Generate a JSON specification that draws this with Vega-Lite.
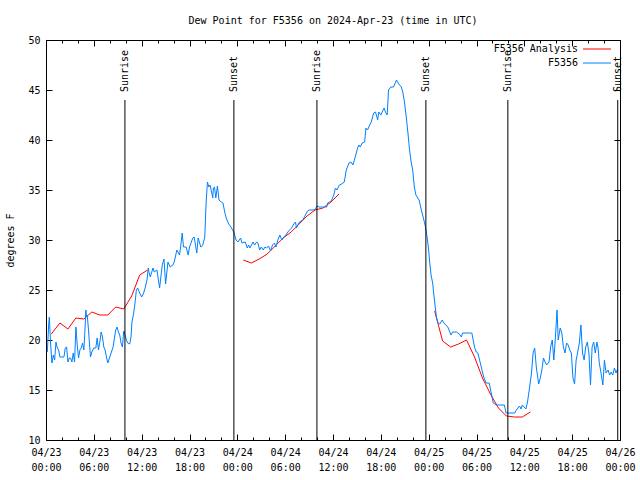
{
"$schema": "https://vega.github.io/schema/vega-lite/v6.json",
"width": 574, "height": 400,
"autosize": {"type": "none"},
"padding": {"left": 46, "top": 40, "right": 20, "bottom": 40},
"background": "white",
"config": {"font": "DejaVu Sans Mono", "view": {"stroke": "black", "strokeWidth": 1}},
"title": {"text": "Dew Point for F5356 on 2024-Apr-23 (time in UTC)", "fontSize": 10, "fontWeight": "normal", "anchor": "middle", "offset": 9, "color": "black", "font": "DejaVu Sans Mono"},
"datasets": {
"obs": [
{"series":"F5356 Analysis","seg":"a1","t":"2024-04-23T00:40Z","v":20.6},
{"series":"F5356 Analysis","seg":"a1","t":"2024-04-23T01:45Z","v":21.7},
{"series":"F5356 Analysis","seg":"a1","t":"2024-04-23T02:45Z","v":21.1},
{"series":"F5356 Analysis","seg":"a1","t":"2024-04-23T03:45Z","v":22.2},
{"series":"F5356 Analysis","seg":"a1","t":"2024-04-23T04:45Z","v":22.1},
{"series":"F5356 Analysis","seg":"a1","t":"2024-04-23T05:45Z","v":22.8},
{"series":"F5356 Analysis","seg":"a1","t":"2024-04-23T06:45Z","v":22.5},
{"series":"F5356 Analysis","seg":"a1","t":"2024-04-23T07:45Z","v":22.5},
{"series":"F5356 Analysis","seg":"a1","t":"2024-04-23T08:45Z","v":23.3},
{"series":"F5356 Analysis","seg":"a1","t":"2024-04-23T09:45Z","v":23.1},
{"series":"F5356 Analysis","seg":"a1","t":"2024-04-23T10:45Z","v":24.4},
{"series":"F5356 Analysis","seg":"a1","t":"2024-04-23T11:45Z","v":26.5},
{"series":"F5356 Analysis","seg":"a1","t":"2024-04-23T12:45Z","v":27.0},
{"series":"F5356 Analysis","seg":"a2","t":"2024-04-24T00:45Z","v":28.0},
{"series":"F5356 Analysis","seg":"a2","t":"2024-04-24T01:45Z","v":27.7},
{"series":"F5356 Analysis","seg":"a2","t":"2024-04-24T02:45Z","v":28.1},
{"series":"F5356 Analysis","seg":"a2","t":"2024-04-24T03:45Z","v":28.6},
{"series":"F5356 Analysis","seg":"a2","t":"2024-04-24T04:45Z","v":29.4},
{"series":"F5356 Analysis","seg":"a2","t":"2024-04-24T05:45Z","v":30.2},
{"series":"F5356 Analysis","seg":"a2","t":"2024-04-24T06:45Z","v":30.8},
{"series":"F5356 Analysis","seg":"a2","t":"2024-04-24T07:45Z","v":31.6},
{"series":"F5356 Analysis","seg":"a2","t":"2024-04-24T08:45Z","v":32.4},
{"series":"F5356 Analysis","seg":"a2","t":"2024-04-24T09:45Z","v":33.0},
{"series":"F5356 Analysis","seg":"a2","t":"2024-04-24T10:45Z","v":33.2},
{"series":"F5356 Analysis","seg":"a2","t":"2024-04-24T11:45Z","v":33.8},
{"series":"F5356 Analysis","seg":"a2","t":"2024-04-24T12:45Z","v":34.6},
{"series":"F5356 Analysis","seg":"a3","t":"2024-04-25T00:45Z","v":22.9},
{"series":"F5356 Analysis","seg":"a3","t":"2024-04-25T01:45Z","v":19.9},
{"series":"F5356 Analysis","seg":"a3","t":"2024-04-25T02:45Z","v":19.3},
{"series":"F5356 Analysis","seg":"a3","t":"2024-04-25T03:45Z","v":19.6},
{"series":"F5356 Analysis","seg":"a3","t":"2024-04-25T04:45Z","v":20.0},
{"series":"F5356 Analysis","seg":"a3","t":"2024-04-25T05:45Z","v":18.3},
{"series":"F5356 Analysis","seg":"a3","t":"2024-04-25T06:45Z","v":16.2},
{"series":"F5356 Analysis","seg":"a3","t":"2024-04-25T07:45Z","v":14.6},
{"series":"F5356 Analysis","seg":"a3","t":"2024-04-25T08:45Z","v":13.2},
{"series":"F5356 Analysis","seg":"a3","t":"2024-04-25T09:45Z","v":12.4},
{"series":"F5356 Analysis","seg":"a3","t":"2024-04-25T10:45Z","v":12.3},
{"series":"F5356 Analysis","seg":"a3","t":"2024-04-25T11:45Z","v":12.3},
{"series":"F5356 Analysis","seg":"a3","t":"2024-04-25T12:45Z","v":12.8},
{"series":"F5356","seg":"b","t":"2024-04-23T00:10Z","v":18.8},
{"series":"F5356","seg":"b","t":"2024-04-23T00:20Z","v":21.5},
{"series":"F5356","seg":"b","t":"2024-04-23T00:25Z","v":22.3},
{"series":"F5356","seg":"b","t":"2024-04-23T00:35Z","v":19.5},
{"series":"F5356","seg":"b","t":"2024-04-23T00:45Z","v":17.7},
{"series":"F5356","seg":"b","t":"2024-04-23T00:55Z","v":18.5},
{"series":"F5356","seg":"b","t":"2024-04-23T01:05Z","v":18.0},
{"series":"F5356","seg":"b","t":"2024-04-23T01:15Z","v":19.8},
{"series":"F5356","seg":"b","t":"2024-04-23T01:25Z","v":19.2},
{"series":"F5356","seg":"b","t":"2024-04-23T01:35Z","v":19.0},
{"series":"F5356","seg":"b","t":"2024-04-23T01:45Z","v":18.3},
{"series":"F5356","seg":"b","t":"2024-04-23T02:00Z","v":18.3},
{"series":"F5356","seg":"b","t":"2024-04-23T02:15Z","v":18.3},
{"series":"F5356","seg":"b","t":"2024-04-23T02:25Z","v":19.2},
{"series":"F5356","seg":"b","t":"2024-04-23T02:35Z","v":19.3},
{"series":"F5356","seg":"b","t":"2024-04-23T02:45Z","v":17.8},
{"series":"F5356","seg":"b","t":"2024-04-23T02:55Z","v":18.2},
{"series":"F5356","seg":"b","t":"2024-04-23T03:05Z","v":18.2},
{"series":"F5356","seg":"b","t":"2024-04-23T03:15Z","v":17.8},
{"series":"F5356","seg":"b","t":"2024-04-23T03:25Z","v":18.7},
{"series":"F5356","seg":"b","t":"2024-04-23T03:35Z","v":17.8},
{"series":"F5356","seg":"b","t":"2024-04-23T03:45Z","v":21.3},
{"series":"F5356","seg":"b","t":"2024-04-23T03:55Z","v":19.5},
{"series":"F5356","seg":"b","t":"2024-04-23T04:05Z","v":18.2},
{"series":"F5356","seg":"b","t":"2024-04-23T04:15Z","v":19.0},
{"series":"F5356","seg":"b","t":"2024-04-23T04:25Z","v":19.2},
{"series":"F5356","seg":"b","t":"2024-04-23T04:35Z","v":19.7},
{"series":"F5356","seg":"b","t":"2024-04-23T04:45Z","v":19.0},
{"series":"F5356","seg":"b","t":"2024-04-23T04:52Z","v":20.7},
{"series":"F5356","seg":"b","t":"2024-04-23T05:00Z","v":23.0},
{"series":"F5356","seg":"b","t":"2024-04-23T05:05Z","v":22.3},
{"series":"F5356","seg":"b","t":"2024-04-23T05:10Z","v":22.5},
{"series":"F5356","seg":"b","t":"2024-04-23T05:20Z","v":21.0},
{"series":"F5356","seg":"b","t":"2024-04-23T05:27Z","v":19.7},
{"series":"F5356","seg":"b","t":"2024-04-23T05:35Z","v":18.3},
{"series":"F5356","seg":"b","t":"2024-04-23T05:45Z","v":18.8},
{"series":"F5356","seg":"b","t":"2024-04-23T06:00Z","v":19.2},
{"series":"F5356","seg":"b","t":"2024-04-23T06:15Z","v":19.2},
{"series":"F5356","seg":"b","t":"2024-04-23T06:25Z","v":20.2},
{"series":"F5356","seg":"b","t":"2024-04-23T06:35Z","v":19.0},
{"series":"F5356","seg":"b","t":"2024-04-23T06:45Z","v":19.8},
{"series":"F5356","seg":"b","t":"2024-04-23T06:55Z","v":20.8},
{"series":"F5356","seg":"b","t":"2024-04-23T07:05Z","v":20.3},
{"series":"F5356","seg":"b","t":"2024-04-23T07:15Z","v":19.3},
{"series":"F5356","seg":"b","t":"2024-04-23T07:25Z","v":19.0},
{"series":"F5356","seg":"b","t":"2024-04-23T07:35Z","v":18.3},
{"series":"F5356","seg":"b","t":"2024-04-23T07:45Z","v":17.7},
{"series":"F5356","seg":"b","t":"2024-04-23T08:00Z","v":18.3},
{"series":"F5356","seg":"b","t":"2024-04-23T08:10Z","v":18.7},
{"series":"F5356","seg":"b","t":"2024-04-23T08:25Z","v":19.3},
{"series":"F5356","seg":"b","t":"2024-04-23T08:35Z","v":20.2},
{"series":"F5356","seg":"b","t":"2024-04-23T08:45Z","v":21.0},
{"series":"F5356","seg":"b","t":"2024-04-23T08:55Z","v":21.3},
{"series":"F5356","seg":"b","t":"2024-04-23T09:05Z","v":20.8},
{"series":"F5356","seg":"b","t":"2024-04-23T09:15Z","v":20.5},
{"series":"F5356","seg":"b","t":"2024-04-23T09:25Z","v":19.7},
{"series":"F5356","seg":"b","t":"2024-04-23T09:35Z","v":19.3},
{"series":"F5356","seg":"b","t":"2024-04-23T09:45Z","v":20.9},
{"series":"F5356","seg":"b","t":"2024-04-23T09:55Z","v":20.5},
{"series":"F5356","seg":"b","t":"2024-04-23T10:05Z","v":20.0},
{"series":"F5356","seg":"b","t":"2024-04-23T10:15Z","v":19.7},
{"series":"F5356","seg":"b","t":"2024-04-23T10:30Z","v":19.6},
{"series":"F5356","seg":"b","t":"2024-04-23T10:40Z","v":20.3},
{"series":"F5356","seg":"b","t":"2024-04-23T10:47Z","v":21.8},
{"series":"F5356","seg":"b","t":"2024-04-23T11:00Z","v":22.7},
{"series":"F5356","seg":"b","t":"2024-04-23T11:10Z","v":23.7},
{"series":"F5356","seg":"b","t":"2024-04-23T11:20Z","v":25.0},
{"series":"F5356","seg":"b","t":"2024-04-23T11:30Z","v":25.2},
{"series":"F5356","seg":"b","t":"2024-04-23T11:45Z","v":24.7},
{"series":"F5356","seg":"b","t":"2024-04-23T12:00Z","v":24.3},
{"series":"F5356","seg":"b","t":"2024-04-23T12:15Z","v":24.7},
{"series":"F5356","seg":"b","t":"2024-04-23T12:28Z","v":25.3},
{"series":"F5356","seg":"b","t":"2024-04-23T12:40Z","v":26.0},
{"series":"F5356","seg":"b","t":"2024-04-23T12:50Z","v":27.2},
{"series":"F5356","seg":"b","t":"2024-04-23T12:55Z","v":26.8},
{"series":"F5356","seg":"b","t":"2024-04-23T13:05Z","v":26.3},
{"series":"F5356","seg":"b","t":"2024-04-23T13:25Z","v":27.2},
{"series":"F5356","seg":"b","t":"2024-04-23T13:35Z","v":26.8},
{"series":"F5356","seg":"b","t":"2024-04-23T13:55Z","v":27.0},
{"series":"F5356","seg":"b","t":"2024-04-23T14:15Z","v":25.2},
{"series":"F5356","seg":"b","t":"2024-04-23T14:35Z","v":27.5},
{"series":"F5356","seg":"b","t":"2024-04-23T14:48Z","v":28.1},
{"series":"F5356","seg":"b","t":"2024-04-23T15:00Z","v":25.6},
{"series":"F5356","seg":"b","t":"2024-04-23T15:18Z","v":27.8},
{"series":"F5356","seg":"b","t":"2024-04-23T15:35Z","v":27.3},
{"series":"F5356","seg":"b","t":"2024-04-23T15:55Z","v":27.5},
{"series":"F5356","seg":"b","t":"2024-04-23T16:05Z","v":27.8},
{"series":"F5356","seg":"b","t":"2024-04-23T16:25Z","v":29.0},
{"series":"F5356","seg":"b","t":"2024-04-23T16:45Z","v":28.5},
{"series":"F5356","seg":"b","t":"2024-04-23T16:55Z","v":29.5},
{"series":"F5356","seg":"b","t":"2024-04-23T17:05Z","v":30.7},
{"series":"F5356","seg":"b","t":"2024-04-23T17:15Z","v":29.3},
{"series":"F5356","seg":"b","t":"2024-04-23T17:35Z","v":29.3},
{"series":"F5356","seg":"b","t":"2024-04-23T17:50Z","v":28.5},
{"series":"F5356","seg":"b","t":"2024-04-23T18:00Z","v":29.3},
{"series":"F5356","seg":"b","t":"2024-04-23T18:25Z","v":30.2},
{"series":"F5356","seg":"b","t":"2024-04-23T18:35Z","v":30.3},
{"series":"F5356","seg":"b","t":"2024-04-23T18:55Z","v":28.7},
{"series":"F5356","seg":"b","t":"2024-04-23T19:05Z","v":30.2},
{"series":"F5356","seg":"b","t":"2024-04-23T19:25Z","v":29.3},
{"series":"F5356","seg":"b","t":"2024-04-23T19:40Z","v":29.5},
{"series":"F5356","seg":"b","t":"2024-04-23T19:55Z","v":30.3},
{"series":"F5356","seg":"b","t":"2024-04-23T20:05Z","v":33.7},
{"series":"F5356","seg":"b","t":"2024-04-23T20:15Z","v":35.8},
{"series":"F5356","seg":"b","t":"2024-04-23T20:25Z","v":35.3},
{"series":"F5356","seg":"b","t":"2024-04-23T20:35Z","v":35.5},
{"series":"F5356","seg":"b","t":"2024-04-23T20:55Z","v":34.2},
{"series":"F5356","seg":"b","t":"2024-04-23T21:00Z","v":35.2},
{"series":"F5356","seg":"b","t":"2024-04-23T21:08Z","v":35.3},
{"series":"F5356","seg":"b","t":"2024-04-23T21:18Z","v":34.2},
{"series":"F5356","seg":"b","t":"2024-04-23T21:30Z","v":35.4},
{"series":"F5356","seg":"b","t":"2024-04-23T21:42Z","v":34.0},
{"series":"F5356","seg":"b","t":"2024-04-23T22:00Z","v":33.8},
{"series":"F5356","seg":"b","t":"2024-04-23T22:12Z","v":33.7},
{"series":"F5356","seg":"b","t":"2024-04-23T22:25Z","v":32.8},
{"series":"F5356","seg":"b","t":"2024-04-23T22:36Z","v":32.2},
{"series":"F5356","seg":"b","t":"2024-04-23T22:55Z","v":31.6},
{"series":"F5356","seg":"b","t":"2024-04-23T23:12Z","v":31.3},
{"series":"F5356","seg":"b","t":"2024-04-23T23:36Z","v":30.7},
{"series":"F5356","seg":"b","t":"2024-04-23T23:50Z","v":30.0},
{"series":"F5356","seg":"b","t":"2024-04-24T00:05Z","v":29.8},
{"series":"F5356","seg":"b","t":"2024-04-24T00:25Z","v":30.2},
{"series":"F5356","seg":"b","t":"2024-04-24T00:35Z","v":29.7},
{"series":"F5356","seg":"b","t":"2024-04-24T01:00Z","v":29.8},
{"series":"F5356","seg":"b","t":"2024-04-24T01:15Z","v":29.2},
{"series":"F5356","seg":"b","t":"2024-04-24T01:25Z","v":29.5},
{"series":"F5356","seg":"b","t":"2024-04-24T01:35Z","v":29.2},
{"series":"F5356","seg":"b","t":"2024-04-24T01:58Z","v":29.8},
{"series":"F5356","seg":"b","t":"2024-04-24T02:10Z","v":29.5},
{"series":"F5356","seg":"b","t":"2024-04-24T02:25Z","v":29.8},
{"series":"F5356","seg":"b","t":"2024-04-24T02:35Z","v":29.7},
{"series":"F5356","seg":"b","t":"2024-04-24T02:48Z","v":29.0},
{"series":"F5356","seg":"b","t":"2024-04-24T03:00Z","v":29.3},
{"series":"F5356","seg":"b","t":"2024-04-24T03:15Z","v":29.0},
{"series":"F5356","seg":"b","t":"2024-04-24T03:28Z","v":29.3},
{"series":"F5356","seg":"b","t":"2024-04-24T03:40Z","v":29.2},
{"series":"F5356","seg":"b","t":"2024-04-24T03:55Z","v":29.4},
{"series":"F5356","seg":"b","t":"2024-04-24T04:10Z","v":28.9},
{"series":"F5356","seg":"b","t":"2024-04-24T04:25Z","v":29.5},
{"series":"F5356","seg":"b","t":"2024-04-24T04:40Z","v":29.7},
{"series":"F5356","seg":"b","t":"2024-04-24T04:50Z","v":29.3},
{"series":"F5356","seg":"b","t":"2024-04-24T05:05Z","v":30.0},
{"series":"F5356","seg":"b","t":"2024-04-24T05:20Z","v":30.5},
{"series":"F5356","seg":"b","t":"2024-04-24T05:35Z","v":30.0},
{"series":"F5356","seg":"b","t":"2024-04-24T05:50Z","v":30.3},
{"series":"F5356","seg":"b","t":"2024-04-24T06:05Z","v":30.5},
{"series":"F5356","seg":"b","t":"2024-04-24T06:20Z","v":30.8},
{"series":"F5356","seg":"b","t":"2024-04-24T06:48Z","v":31.2},
{"series":"F5356","seg":"b","t":"2024-04-24T07:05Z","v":31.6},
{"series":"F5356","seg":"b","t":"2024-04-24T07:18Z","v":31.8},
{"series":"F5356","seg":"b","t":"2024-04-24T07:25Z","v":31.2},
{"series":"F5356","seg":"b","t":"2024-04-24T07:35Z","v":31.5},
{"series":"F5356","seg":"b","t":"2024-04-24T07:48Z","v":31.8},
{"series":"F5356","seg":"b","t":"2024-04-24T08:12Z","v":32.0},
{"series":"F5356","seg":"b","t":"2024-04-24T08:25Z","v":32.3},
{"series":"F5356","seg":"b","t":"2024-04-24T08:48Z","v":32.9},
{"series":"F5356","seg":"b","t":"2024-04-24T09:00Z","v":33.0},
{"series":"F5356","seg":"b","t":"2024-04-24T09:30Z","v":33.0},
{"series":"F5356","seg":"b","t":"2024-04-24T09:48Z","v":33.1},
{"series":"F5356","seg":"b","t":"2024-04-24T10:00Z","v":33.4},
{"series":"F5356","seg":"b","t":"2024-04-24T10:15Z","v":33.3},
{"series":"F5356","seg":"b","t":"2024-04-24T10:42Z","v":33.3},
{"series":"F5356","seg":"b","t":"2024-04-24T11:12Z","v":33.3},
{"series":"F5356","seg":"b","t":"2024-04-24T11:20Z","v":33.7},
{"series":"F5356","seg":"b","t":"2024-04-24T11:36Z","v":33.8},
{"series":"F5356","seg":"b","t":"2024-04-24T11:50Z","v":34.0},
{"series":"F5356","seg":"b","t":"2024-04-24T12:06Z","v":34.5},
{"series":"F5356","seg":"b","t":"2024-04-24T12:18Z","v":35.2},
{"series":"F5356","seg":"b","t":"2024-04-24T12:30Z","v":35.0},
{"series":"F5356","seg":"b","t":"2024-04-24T12:48Z","v":35.5},
{"series":"F5356","seg":"b","t":"2024-04-24T13:05Z","v":35.6},
{"series":"F5356","seg":"b","t":"2024-04-24T13:25Z","v":35.8},
{"series":"F5356","seg":"b","t":"2024-04-24T13:40Z","v":37.0},
{"series":"F5356","seg":"b","t":"2024-04-24T14:00Z","v":37.7},
{"series":"F5356","seg":"b","t":"2024-04-24T14:15Z","v":37.8},
{"series":"F5356","seg":"b","t":"2024-04-24T14:30Z","v":37.5},
{"series":"F5356","seg":"b","t":"2024-04-24T14:45Z","v":38.2},
{"series":"F5356","seg":"b","t":"2024-04-24T15:05Z","v":39.2},
{"series":"F5356","seg":"b","t":"2024-04-24T15:15Z","v":39.5},
{"series":"F5356","seg":"b","t":"2024-04-24T15:25Z","v":39.3},
{"series":"F5356","seg":"b","t":"2024-04-24T15:40Z","v":39.7},
{"series":"F5356","seg":"b","t":"2024-04-24T15:58Z","v":39.8},
{"series":"F5356","seg":"b","t":"2024-04-24T16:08Z","v":41.2},
{"series":"F5356","seg":"b","t":"2024-04-24T16:20Z","v":41.0},
{"series":"F5356","seg":"b","t":"2024-04-24T16:36Z","v":41.5},
{"series":"F5356","seg":"b","t":"2024-04-24T16:48Z","v":41.8},
{"series":"F5356","seg":"b","t":"2024-04-24T17:06Z","v":42.7},
{"series":"F5356","seg":"b","t":"2024-04-24T17:20Z","v":42.8},
{"series":"F5356","seg":"b","t":"2024-04-24T17:36Z","v":42.0},
{"series":"F5356","seg":"b","t":"2024-04-24T17:45Z","v":42.8},
{"series":"F5356","seg":"b","t":"2024-04-24T18:00Z","v":42.5},
{"series":"F5356","seg":"b","t":"2024-04-24T18:24Z","v":43.2},
{"series":"F5356","seg":"b","t":"2024-04-24T18:35Z","v":42.8},
{"series":"F5356","seg":"b","t":"2024-04-24T18:48Z","v":42.5},
{"series":"F5356","seg":"b","t":"2024-04-24T18:58Z","v":45.0},
{"series":"F5356","seg":"b","t":"2024-04-24T19:15Z","v":45.3},
{"series":"F5356","seg":"b","t":"2024-04-24T19:36Z","v":45.3},
{"series":"F5356","seg":"b","t":"2024-04-24T19:58Z","v":46.0},
{"series":"F5356","seg":"b","t":"2024-04-24T20:10Z","v":45.7},
{"series":"F5356","seg":"b","t":"2024-04-24T20:34Z","v":45.3},
{"series":"F5356","seg":"b","t":"2024-04-24T20:45Z","v":44.8},
{"series":"F5356","seg":"b","t":"2024-04-24T20:59Z","v":43.7},
{"series":"F5356","seg":"b","t":"2024-04-24T21:12Z","v":42.2},
{"series":"F5356","seg":"b","t":"2024-04-24T21:24Z","v":40.7},
{"series":"F5356","seg":"b","t":"2024-04-24T21:36Z","v":39.0},
{"series":"F5356","seg":"b","t":"2024-04-24T21:48Z","v":37.8},
{"series":"F5356","seg":"b","t":"2024-04-24T22:00Z","v":37.0},
{"series":"F5356","seg":"b","t":"2024-04-24T22:12Z","v":35.3},
{"series":"F5356","seg":"b","t":"2024-04-24T22:24Z","v":34.5},
{"series":"F5356","seg":"b","t":"2024-04-24T22:48Z","v":34.0},
{"series":"F5356","seg":"b","t":"2024-04-24T23:05Z","v":33.0},
{"series":"F5356","seg":"b","t":"2024-04-24T23:24Z","v":32.0},
{"series":"F5356","seg":"b","t":"2024-04-24T23:36Z","v":31.3},
{"series":"F5356","seg":"b","t":"2024-04-24T23:48Z","v":30.3},
{"series":"F5356","seg":"b","t":"2024-04-25T00:00Z","v":29.0},
{"series":"F5356","seg":"b","t":"2024-04-25T00:06Z","v":28.0},
{"series":"F5356","seg":"b","t":"2024-04-25T00:18Z","v":26.5},
{"series":"F5356","seg":"b","t":"2024-04-25T00:30Z","v":25.7},
{"series":"F5356","seg":"b","t":"2024-04-25T00:42Z","v":24.2},
{"series":"F5356","seg":"b","t":"2024-04-25T00:58Z","v":22.3},
{"series":"F5356","seg":"b","t":"2024-04-25T01:10Z","v":21.7},
{"series":"F5356","seg":"b","t":"2024-04-25T01:24Z","v":21.6},
{"series":"F5356","seg":"b","t":"2024-04-25T01:42Z","v":22.0},
{"series":"F5356","seg":"b","t":"2024-04-25T01:55Z","v":21.7},
{"series":"F5356","seg":"b","t":"2024-04-25T02:24Z","v":21.3},
{"series":"F5356","seg":"b","t":"2024-04-25T02:48Z","v":20.5},
{"series":"F5356","seg":"b","t":"2024-04-25T03:00Z","v":20.8},
{"series":"F5356","seg":"b","t":"2024-04-25T03:30Z","v":20.8},
{"series":"F5356","seg":"b","t":"2024-04-25T03:50Z","v":20.6},
{"series":"F5356","seg":"b","t":"2024-04-25T04:06Z","v":20.3},
{"series":"F5356","seg":"b","t":"2024-04-25T04:15Z","v":20.7},
{"series":"F5356","seg":"b","t":"2024-04-25T05:06Z","v":20.7},
{"series":"F5356","seg":"b","t":"2024-04-25T05:25Z","v":20.7},
{"series":"F5356","seg":"b","t":"2024-04-25T05:45Z","v":19.3},
{"series":"F5356","seg":"b","t":"2024-04-25T05:58Z","v":18.8},
{"series":"F5356","seg":"b","t":"2024-04-25T06:10Z","v":18.7},
{"series":"F5356","seg":"b","t":"2024-04-25T06:36Z","v":17.3},
{"series":"F5356","seg":"b","t":"2024-04-25T06:54Z","v":16.3},
{"series":"F5356","seg":"b","t":"2024-04-25T07:12Z","v":15.7},
{"series":"F5356","seg":"b","t":"2024-04-25T07:36Z","v":15.7},
{"series":"F5356","seg":"b","t":"2024-04-25T07:51Z","v":14.7},
{"series":"F5356","seg":"b","t":"2024-04-25T08:06Z","v":13.7},
{"series":"F5356","seg":"b","t":"2024-04-25T08:30Z","v":13.5},
{"series":"F5356","seg":"b","t":"2024-04-25T09:30Z","v":13.5},
{"series":"F5356","seg":"b","t":"2024-04-25T09:42Z","v":12.7},
{"series":"F5356","seg":"b","t":"2024-04-25T10:06Z","v":12.7},
{"series":"F5356","seg":"b","t":"2024-04-25T10:48Z","v":12.7},
{"series":"F5356","seg":"b","t":"2024-04-25T11:00Z","v":13.0},
{"series":"F5356","seg":"b","t":"2024-04-25T11:24Z","v":13.4},
{"series":"F5356","seg":"b","t":"2024-04-25T11:35Z","v":13.1},
{"series":"F5356","seg":"b","t":"2024-04-25T11:45Z","v":13.5},
{"series":"F5356","seg":"b","t":"2024-04-25T12:12Z","v":13.1},
{"series":"F5356","seg":"b","t":"2024-04-25T12:24Z","v":13.8},
{"series":"F5356","seg":"b","t":"2024-04-25T12:39Z","v":15.2},
{"series":"F5356","seg":"b","t":"2024-04-25T12:54Z","v":16.7},
{"series":"F5356","seg":"b","t":"2024-04-25T13:06Z","v":18.7},
{"series":"F5356","seg":"b","t":"2024-04-25T13:18Z","v":19.2},
{"series":"F5356","seg":"b","t":"2024-04-25T13:30Z","v":17.3},
{"series":"F5356","seg":"b","t":"2024-04-25T13:48Z","v":15.6},
{"series":"F5356","seg":"b","t":"2024-04-25T14:00Z","v":16.2},
{"series":"F5356","seg":"b","t":"2024-04-25T14:12Z","v":17.0},
{"series":"F5356","seg":"b","t":"2024-04-25T14:24Z","v":18.2},
{"series":"F5356","seg":"b","t":"2024-04-25T14:36Z","v":17.8},
{"series":"F5356","seg":"b","t":"2024-04-25T14:48Z","v":17.5},
{"series":"F5356","seg":"b","t":"2024-04-25T15:06Z","v":17.8},
{"series":"F5356","seg":"b","t":"2024-04-25T15:18Z","v":19.3},
{"series":"F5356","seg":"b","t":"2024-04-25T15:30Z","v":20.0},
{"series":"F5356","seg":"b","t":"2024-04-25T15:42Z","v":18.0},
{"series":"F5356","seg":"b","t":"2024-04-25T15:54Z","v":20.3},
{"series":"F5356","seg":"b","t":"2024-04-25T16:06Z","v":23.0},
{"series":"F5356","seg":"b","t":"2024-04-25T16:15Z","v":20.0},
{"series":"F5356","seg":"b","t":"2024-04-25T16:30Z","v":21.2},
{"series":"F5356","seg":"b","t":"2024-04-25T16:42Z","v":20.7},
{"series":"F5356","seg":"b","t":"2024-04-25T16:54Z","v":19.3},
{"series":"F5356","seg":"b","t":"2024-04-25T17:06Z","v":18.7},
{"series":"F5356","seg":"b","t":"2024-04-25T17:18Z","v":19.7},
{"series":"F5356","seg":"b","t":"2024-04-25T17:30Z","v":19.5},
{"series":"F5356","seg":"b","t":"2024-04-25T17:42Z","v":19.0},
{"series":"F5356","seg":"b","t":"2024-04-25T17:54Z","v":18.7},
{"series":"F5356","seg":"b","t":"2024-04-25T18:06Z","v":16.2},
{"series":"F5356","seg":"b","t":"2024-04-25T18:18Z","v":15.6},
{"series":"F5356","seg":"b","t":"2024-04-25T18:30Z","v":18.0},
{"series":"F5356","seg":"b","t":"2024-04-25T18:42Z","v":18.8},
{"series":"F5356","seg":"b","t":"2024-04-25T18:54Z","v":19.7},
{"series":"F5356","seg":"b","t":"2024-04-25T19:06Z","v":21.5},
{"series":"F5356","seg":"b","t":"2024-04-25T19:18Z","v":18.7},
{"series":"F5356","seg":"b","t":"2024-04-25T19:30Z","v":18.0},
{"series":"F5356","seg":"b","t":"2024-04-25T19:42Z","v":19.3},
{"series":"F5356","seg":"b","t":"2024-04-25T19:54Z","v":19.8},
{"series":"F5356","seg":"b","t":"2024-04-25T20:06Z","v":18.7},
{"series":"F5356","seg":"b","t":"2024-04-25T20:18Z","v":15.5},
{"series":"F5356","seg":"b","t":"2024-04-25T20:30Z","v":19.3},
{"series":"F5356","seg":"b","t":"2024-04-25T20:42Z","v":19.8},
{"series":"F5356","seg":"b","t":"2024-04-25T20:54Z","v":18.7},
{"series":"F5356","seg":"b","t":"2024-04-25T21:06Z","v":19.8},
{"series":"F5356","seg":"b","t":"2024-04-25T21:15Z","v":19.2},
{"series":"F5356","seg":"b","t":"2024-04-25T21:24Z","v":17.7},
{"series":"F5356","seg":"b","t":"2024-04-25T21:36Z","v":16.8},
{"series":"F5356","seg":"b","t":"2024-04-25T21:51Z","v":15.5},
{"series":"F5356","seg":"b","t":"2024-04-25T22:03Z","v":18.0},
{"series":"F5356","seg":"b","t":"2024-04-25T22:15Z","v":16.7},
{"series":"F5356","seg":"b","t":"2024-04-25T22:30Z","v":17.0},
{"series":"F5356","seg":"b","t":"2024-04-25T22:42Z","v":16.5},
{"series":"F5356","seg":"b","t":"2024-04-25T22:54Z","v":16.8},
{"series":"F5356","seg":"b","t":"2024-04-25T23:06Z","v":16.5},
{"series":"F5356","seg":"b","t":"2024-04-25T23:18Z","v":17.2},
{"series":"F5356","seg":"b","t":"2024-04-25T23:30Z","v":16.7},
{"series":"F5356","seg":"b","t":"2024-04-25T23:42Z","v":17.1}
],
"sun": [
{"event":"Sunrise","t":"2024-04-23T09:54Z"},
{"event":"Sunset","t":"2024-04-23T23:34Z"},
{"event":"Sunrise","t":"2024-04-24T09:59Z"},
{"event":"Sunset","t":"2024-04-24T23:39Z"},
{"event":"Sunrise","t":"2024-04-25T09:56Z"},
{"event":"Sunset","t":"2024-04-25T23:43Z"}
]
},
"layer": [
{
"data": {"name": "obs"},
"mark": {"type": "line", "strokeWidth": 1, "clip": true},
"encoding": {
"x": {"field": "t", "type": "temporal",
 "scale": {"type": "utc", "domain": [1713830400000, 1714089600000]},
 "axis": {"orient": "bottom", "title": null, "grid": false, "domain": false,
  "values": [1713830400000, 1713852000000, 1713873600000, 1713895200000, 1713916800000, 1713938400000, 1713960000000, 1713981600000, 1714003200000, 1714024800000, 1714046400000, 1714068000000, 1714089600000],
  "tickColor": "black", "tickSize": -6,
  "labelExpr": "[utcFormat(datum.value, '%m/%d'), utcFormat(datum.value, '%H:%M')]",
  "labelFont": "DejaVu Sans Mono", "labelFontSize": 10, "labelColor": "black",
  "labelPadding": 13, "labelLineHeight": 15, "labelFlush": false, "labelOverlap": false, "labelBound": false}},
"y": {"field": "v", "type": "quantitative",
 "scale": {"domain": [10, 50], "nice": false, "zero": false},
 "axis": {"orient": "left", "values": [10, 15, 20, 25, 30, 35, 40, 45, 50], "grid": false, "domain": false,
  "tickSize": -6, "tickColor": "black",
  "labelFont": "DejaVu Sans Mono", "labelFontSize": 10, "labelColor": "black", "labelPadding": 12,
  "title": "degrees F", "titleFont": "DejaVu Sans Mono", "titleFontSize": 10, "titleFontWeight": "normal", "titleColor": "black", "titlePadding": 12}},
"color": {"field": "series", "type": "nominal",
 "scale": {"domain": ["F5356 Analysis", "F5356"], "range": ["#ff0000", "#0080ff"]},
 "legend": {"orient": "none", "legendX": 546, "legendY": 4, "title": null, "padding": 0,
  "symbolType": "M-4,0L4,0", "symbolSize": 49, "symbolStrokeWidth": 1,
  "labelAlign": "right", "labelOffset": -24, "labelFont": "DejaVu Sans Mono", "labelFontSize": 10, "labelColor": "black",
  "rowPadding": 4, "direction": "vertical"}},
"detail": {"field": "seg"}
}
},
{
"data": {"name": "sun"},
"mark": {"type": "rule", "color": "black", "strokeWidth": 1},
"encoding": {
"x": {"field": "t", "type": "temporal",
 "axis": {"orient": "top", "title": null, "grid": false, "domain": false, "labels": false,
  "values": [1713830400000, 1713852000000, 1713873600000, 1713895200000, 1713916800000, 1713938400000, 1713960000000, 1713981600000, 1714003200000, 1714024800000, 1714046400000, 1714068000000, 1714089600000],
  "tickColor": "black", "tickSize": -6}},
"y": {"datum": 10, "type": "quantitative",
 "axis": {"orient": "right", "title": null, "values": [10, 15, 20, 25, 30, 35, 40, 45, 50], "grid": false, "domain": false, "labels": false, "tickSize": -6, "tickColor": "black"}},
"y2": {"datum": 44}
}
},
{
"data": {"name": "sun"},
"mark": {"type": "text", "angle": 270, "align": "left", "baseline": "middle", "font": "DejaVu Sans Mono", "fontSize": 10, "color": "black"},
"encoding": {
"x": {"field": "t", "type": "temporal",
 "axis": {"orient": "bottom", "title": null, "grid": false, "domain": false, "labels": false, "offset": 0,
  "values": [1713837600000, 1713844800000, 1713859200000, 1713866400000, 1713880800000, 1713888000000, 1713902400000, 1713909600000, 1713924000000, 1713931200000, 1713945600000, 1713952800000, 1713967200000, 1713974400000, 1713988800000, 1713996000000, 1714010400000, 1714017600000, 1714032000000, 1714039200000, 1714053600000, 1714060800000, 1714075200000, 1714082400000],
  "tickColor": "black", "tickSize": -3}},
"y": {"datum": 44.8, "type": "quantitative", "axis": null},
"text": {"field": "event"}
}
},
{
"data": {"name": "sun"},
"mark": {"type": "rule", "opacity": 0},
"encoding": {
"x": {"field": "t", "type": "temporal",
 "axis": {"orient": "top", "title": null, "grid": false, "domain": false, "labels": false, "offset": 0,
  "values": [1713837600000, 1713844800000, 1713859200000, 1713866400000, 1713880800000, 1713888000000, 1713902400000, 1713909600000, 1713924000000, 1713931200000, 1713945600000, 1713952800000, 1713967200000, 1713974400000, 1713988800000, 1713996000000, 1714010400000, 1714017600000, 1714032000000, 1714039200000, 1714053600000, 1714060800000, 1714075200000, 1714082400000],
  "tickColor": "black", "tickSize": -3}}
}
}
],
"resolve": {"axis": {"x": "independent", "y": "independent"}}
}
